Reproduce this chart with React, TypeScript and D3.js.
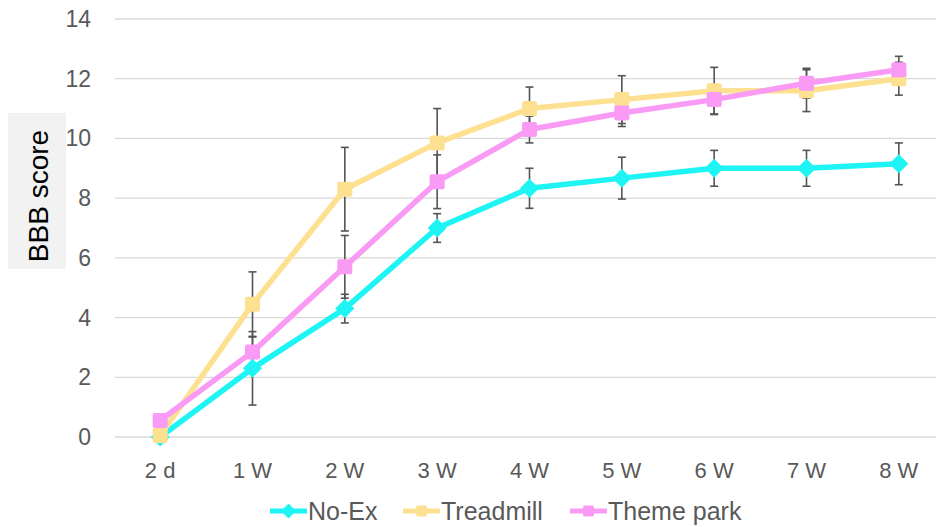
import React from "react";
import * as d3 from "d3";

const categories = ["2 d", "1 W", "2 W", "3 W", "4 W", "5 W", "6 W", "7 W", "8 W"];
const yTicks = [0, 2, 4, 6, 8, 10, 12, 14];

const noEx = [0, 2.3, 4.3, 7.0, 8.33, 8.67, 9.0, 9.0, 9.15];
const noExErr = [0, 1.23, 0.48, 0.48, 0.67, 0.7, 0.6, 0.6, 0.7];
const treadmill = [0.05, 4.45, 8.3, 9.85, 11.0, 11.3, 11.6, 11.6, 12.0];
const treadmillErr = [0, 1.08, 1.4, 1.15, 0.72, 0.8, 0.78, 0.7, 0.55];
const themePark = [0.55, 2.85, 5.7, 8.55, 10.3, 10.85, 11.3, 11.85, 12.3];
const themeParkErr = [0, 0.5, 1.05, 0.9, 0.45, 0.45, 0.5, 0.5, 0.45];

const seriesNames = ["No-Ex", "Treadmill", "Theme park"];
const seriesValues = [noEx, treadmill, themePark];
const seriesErrors = [noExErr, treadmillErr, themeParkErr];
const colors = ["#1ef4f4", "#fde090", "#f99bf5"];
const shapes = ["diamond", "square", "square"];

const W = 936;
const H = 527;

function Marker({ shape, cx, cy, color, size }: { shape: string; cx: number; cy: number; color: string; size: number }) {
  if (shape === "diamond") {
    const r = size / 2 + 2;
    return <path d={`M${cx},${cy - r}L${cx + r},${cy}L${cx},${cy + r}L${cx - r},${cy}Z`} fill={color} />;
  }
  const h = size / 2;
  return <rect x={cx - h} y={cy - h} width={size} height={size} rx={2} fill={color} />;
}

export default function App() {
  const x = d3.scalePoint<string>().domain(categories).range([114, 945]).padding(0.5);
  const y = d3.scaleLinear().domain([0, 14]).range([437, 19]);
  const font = "'Liberation Sans', Arial, sans-serif";
  const line = d3
    .line<number>()
    .x((_, i) => x(categories[i]) as number)
    .y((d) => y(d));

  const legendItems = [
    { x0: 270, tx: 308 },
    { x0: 403, tx: 441 },
    { x0: 570, tx: 608 },
  ];

  return (
    <svg width={W} height={H} style={{ position: "absolute", left: 0, top: 0, background: "#fff" }}>
      <rect x={0} y={0} width={W} height={H} fill="#fff" />
      {yTicks.map((t) => (
        <g key={t}>
          <line x1={115} x2={W} y1={y(t)} y2={y(t)} stroke="#d9d9d9" strokeWidth={1.3} />
          <text x={91} y={y(t)} dy="0.35em" textAnchor="end" fontSize={23} fill="#595959" fontFamily={font}>
            {t}
          </text>
        </g>
      ))}
      {categories.map((c) => (
        <text key={c} x={x(c)} y={470} dy="0.35em" textAnchor="middle" fontSize={22} fill="#595959" fontFamily={font}>
          {c}
        </text>
      ))}
      <rect x={8} y={113} width={58} height={156} fill="#f2f2f2" />
      <text
        transform={`translate(38,196) rotate(-90)`}
        textAnchor="middle"
        dy="0.35em"
        fontSize={28}
        fill="#000"
        fontFamily={font}
      >
        BBB score
      </text>
      {seriesValues.map((vals, s) => (
        <g key={"err" + s}>
          {vals.map((v, i) => {
            const e = seriesErrors[s][i];
            if (!e) return null;
            const cx = x(categories[i]) as number;
            return (
              <g key={i} stroke="#555" strokeWidth={1.6}>
                <line x1={cx} x2={cx} y1={y(v + e)} y2={y(v - e)} />
                <line x1={cx - 4} x2={cx + 4} y1={y(v + e)} y2={y(v + e)} />
                <line x1={cx - 4} x2={cx + 4} y1={y(v - e)} y2={y(v - e)} />
              </g>
            );
          })}
        </g>
      ))}
      {seriesValues.map((vals, s) => (
        <g key={"s" + s}>
          <path d={line(vals) || ""} fill="none" stroke={colors[s]} strokeWidth={5.5} strokeLinejoin="round" />
          {vals.map((v, i) => (
            <Marker key={i} shape={shapes[s]} cx={x(categories[i]) as number} cy={y(v)} color={colors[s]} size={15} />
          ))}
        </g>
      ))}
      {seriesNames.map((n, s) => {
        const li = legendItems[s];
        return (
          <g key={n}>
            <line x1={li.x0} x2={li.x0 + 37} y1={511} y2={511} stroke={colors[s]} strokeWidth={5} />
            <Marker shape={shapes[s]} cx={li.x0 + 18.5} cy={511} color={colors[s]} size={11} />
            <text x={li.tx} y={511} dy="0.35em" fontSize={25} fill="#595959" fontFamily={font}>
              {n}
            </text>
          </g>
        );
      })}
    </svg>
  );
}
